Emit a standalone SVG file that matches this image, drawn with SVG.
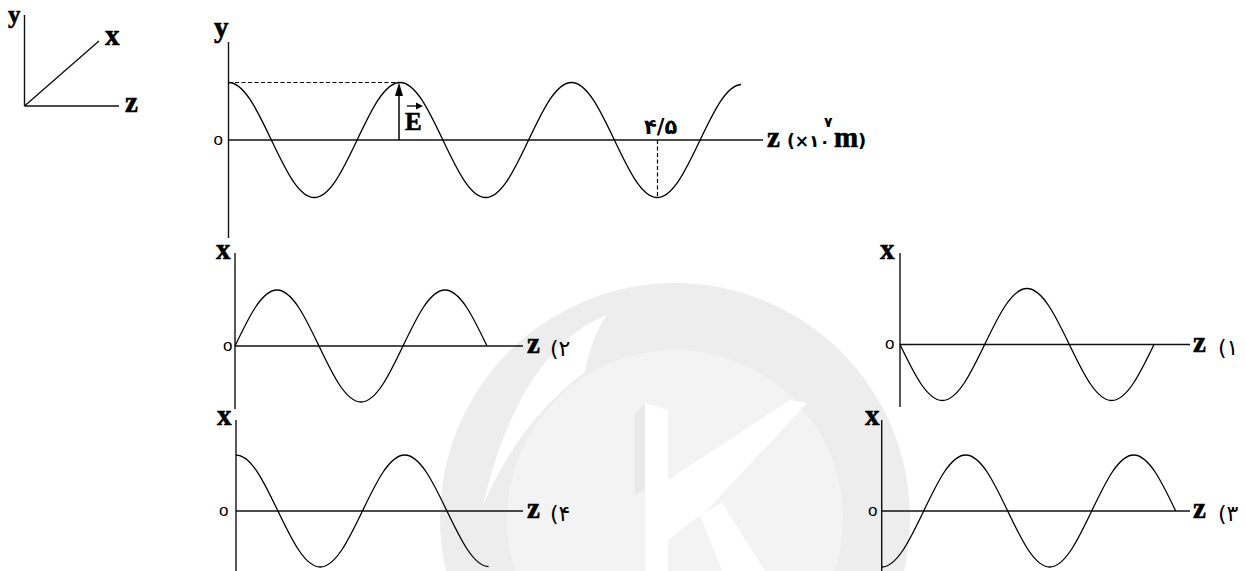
<svg xmlns="http://www.w3.org/2000/svg" width="1246" height="571" viewBox="0 0 1246 571">
<style>
.ax{stroke:#111;stroke-width:1.4;fill:none}
.cv{stroke:#000;stroke-width:1.3;fill:none}
.ds{stroke:#000;stroke-width:1.2;fill:none;stroke-dasharray:4 2.5}
.lb{font-family:"Liberation Serif",serif;font-weight:bold;font-size:29px;fill:#000;stroke:#000;stroke-width:0.6}
.o{font-family:"Liberation Sans",sans-serif;font-size:17px;fill:#000}
.fa{font-family:"DejaVu Sans",sans-serif;font-size:22px;fill:#000}
.fb{font-family:"DejaVu Sans",sans-serif;font-weight:bold;font-size:18px;fill:#000}
</style>
<rect width="1246" height="571" fill="#fff"/>
<g id="watermark">
<circle cx="675" cy="518" r="235" fill="#ededed"/>
<circle cx="675" cy="518" r="168" fill="#f3f3f3"/>
<path d="M607,315 Q520,350 483,505 Q520,420 585,372 Q592,335 607,315 Z" fill="#fff"/>
<polygon points="635,413 645,403 645,490 635,495" fill="#e9e9e9"/>
<polygon points="645,403 668,410 668,571 645,571" fill="#fff"/>
<polygon points="668,480 790,400 807,403 707,510 668,540" fill="#fff"/>
<polygon points="700,515 722,503 765,571 722,571" fill="#fff"/>
</g>
<g id="reference-axes">
<line class="ax" x1="24.5" y1="15" x2="24.5" y2="106"/>
<line class="ax" x1="24.5" y1="106" x2="119" y2="106"/>
<line class="ax" x1="24.5" y1="106" x2="99" y2="41"/>
<text class="lb" x="8" y="23" style="font-size:25px">y</text>
<text class="lb" x="105" y="45">x</text>
<text class="lb" x="125" y="112">z</text>
</g>
<g id="main-graph">
<line class="ax" x1="228.5" y1="42" x2="228.5" y2="238"/>
<line class="ax" x1="228.5" y1="140" x2="763" y2="140" stroke="#333"/>
<line class="ds" x1="228.5" y1="82.5" x2="399" y2="82.5"/>
<line class="ds" x1="657.5" y1="140" x2="657.5" y2="197"/>
<path class="cv" d="M228.5,82.5 C244.02,82.5 257.39,110.54 271.375,140 C285.36,169.46 298.74,197.5 314.25,197.5 C329.77,197.5 343.14,169.46 357.125,140 C371.11,110.54 384.49,82.5 400,82.5 C415.52,82.5 428.89,110.54 442.875,140 C456.86,169.46 470.24,197.5 485.75,197.5 C501.27,197.5 514.64,169.46 528.625,140 C542.61,110.54 555.99,82.5 571.5,82.5 C587.02,82.5 600.39,110.54 614.375,140 C628.36,169.46 641.74,197.5 657.25,197.5 C672.77,197.5 686.14,169.46 700.125,140 C714.11,110.54 726.5,85.5 741,84.5"/>
<line x1="399" y1="140" x2="399" y2="94" stroke="#000" stroke-width="1.5"/>
<polygon points="399,82.5 395,96 403,96" fill="#000"/>
<text class="lb" x="405" y="130" style="font-size:25px">E</text>
<line x1="407" y1="106" x2="418" y2="106" stroke="#000" stroke-width="1.3"/>
<polygon points="423,106 416,102.5 416,109.5" fill="#000"/>
<text class="o" x="213.5" y="144.5">o</text>
<text class="lb" x="214" y="37">y</text>
<text class="fb" x="644" y="134" style="font-size:21px">۴/۵</text>
<text class="lb" x="767" y="147">z</text>
<text class="fb" x="787" y="147" style="font-size:17px">(×۱۰</text>
<text class="fb" x="824" y="127" style="font-size:14px">۷</text>
<text class="lb" x="834" y="147">m</text>
<text class="fb" x="858" y="147">)</text>
</g>
<g id="option-2">
<line class="ax" x1="235" y1="253" x2="235" y2="409"/>
<line class="ax" x1="235" y1="346" x2="523" y2="346"/>
<path class="cv" d="M235,346 C248.7,317.31 261.8,290 277,290 C292.2,290 305.3,317.31 319,346 C332.7,374.69 345.8,402 361,402 C376.2,402 389.3,374.69 403,346 C416.7,317.31 429.8,290 445,290 C460.2,290 473.3,317.31 487,346"/>
<text class="lb" x="216" y="259">x</text>
<text class="o" x="223" y="350.5">o</text>
<text class="lb" x="527" y="353">z</text>
<text class="fa" x="550" y="356">(۲</text>
</g>
<g id="option-1">
<line class="ax" x1="900" y1="253" x2="900" y2="407"/>
<line class="ax" x1="900" y1="344.5" x2="1190" y2="344.5"/>
<path class="cv" d="M900,344.5 C913.8,373.19 927.01,400.5 942.33,400.5 C957.65,400.5 970.86,373.19 984.67,344.5 C998.47,315.81 1011.68,288.5 1027,288.5 C1042.32,288.5 1055.53,315.81 1069.33,344.5 C1083.13,373.19 1096.34,400.5 1111.67,400.5 C1126.99,400.5 1140.2,373.19 1154,344.5"/>
<text class="lb" x="880" y="259">x</text>
<text class="o" x="885" y="349">o</text>
<text class="lb" x="1193" y="352">z</text>
<text class="fa" x="1218" y="355">(۱</text>
</g>
<g id="option-4">
<line class="ax" x1="236" y1="420" x2="236" y2="571"/>
<line class="ax" x1="236" y1="511" x2="523" y2="511"/>
<path class="cv" d="M236,455 C251.29,455 264.17,482.31 277.95,511 C291.73,539.69 304.91,567 320.2,567 C335.49,567 348.67,539.69 362.45,511 C376.23,482.31 389.41,455 404.7,455 C419.99,455 433.17,482.31 446.95,511 C460.73,539.69 473.91,566.5 488.5,566.5"/>
<text class="lb" x="217" y="425">x</text>
<text class="o" x="219" y="515.5">o</text>
<text class="lb" x="527" y="518">z</text>
<text class="fa" x="550" y="521">(۴</text>
</g>
<g id="option-3">
<line class="ax" x1="881.7" y1="420" x2="881.7" y2="571"/>
<line class="ax" x1="881.7" y1="511" x2="1190" y2="511"/>
<path class="cv" d="M881.7,567 C896.9,567 910,539.69 923.7,511 C937.4,482.31 950.5,455 965.7,455 C980.9,455 994,482.31 1007.7,511 C1021.4,539.69 1034.5,567 1049.7,567 C1064.9,567 1078,539.69 1091.7,511 C1105.4,482.31 1118.5,455 1133.7,455 C1148.9,455 1162,482.31 1175.7,511"/>
<text class="lb" x="865" y="425">x</text>
<text class="o" x="868" y="515.5">o</text>
<text class="lb" x="1193" y="518">z</text>
<text class="fa" x="1218" y="521">(۳</text>
</g>
</svg>
